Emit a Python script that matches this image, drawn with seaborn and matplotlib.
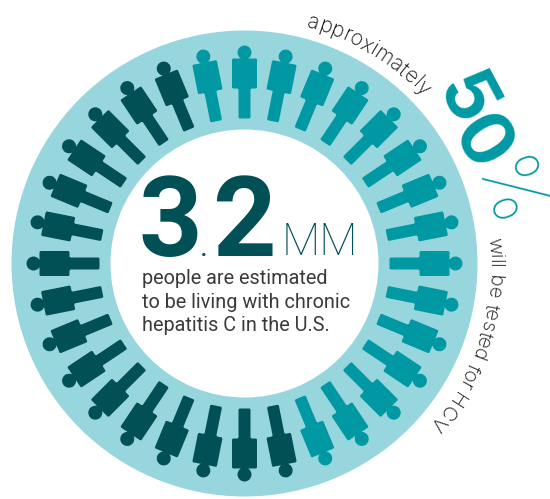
import numpy as np
import pandas as pd
import matplotlib.pyplot as plt
import seaborn as sns
from matplotlib.font_manager import FontProperties
from matplotlib.markers import MarkerStyle
from matplotlib.patches import Wedge
from matplotlib.path import Path
from matplotlib.textpath import TextToPath
from matplotlib.transforms import Affine2D

# 16 of the 32 people are tested, going clockwise from the top
status = ['tested'] * 15 + ['untested'] * 16 + ['tested']
colors = {'tested': '#0099a3', 'untested': '#005056'}
ring_color = '#98d6de'
text_color = '#3a3a3c'
curve_color = '#111111'

body_lines = ['people are estimated', 'to be living with chronic', 'hepatitis C in the U.S.']

DPI = 100
cx, cy = 244.5, 263.5
outer_r, inner_r = 233, 134
person_r = 181.5  # radius of the middle of a person


def rounded(points, rad=1.5):
    # closed polygon with small round corners
    verts, codes = [], []
    n = len(points)
    for i, p in enumerate(points):
        p = np.array(p, dtype=float)
        a = np.array(points[i - 1], dtype=float)
        b = np.array(points[(i + 1) % n], dtype=float)
        p1 = p + (a - p) / np.linalg.norm(a - p) * rad
        p2 = p + (b - p) / np.linalg.norm(b - p) * rad
        verts += [p1, p, p2]
        codes += [Path.MOVETO if i == 0 else Path.LINETO, Path.CURVE3, Path.CURVE3]
    verts.append(verts[0])
    codes.append(Path.CLOSEPOLY)
    return Path(verts, codes)


# person pointing up, in pixels, centred on person_r
body = rounded([(-6, -36.5), (6, -36.5), (6, -6.5), (12.5, -6.5), (12.5, 23.5),
                (-12.5, 23.5), (-12.5, -6.5), (-6, -6.5)])
head = Path.circle((0, 29.5), 7)
person = Path.make_compound_path(body, head)
extent = np.abs(person.vertices).max()
marker_size = (2 * extent * 72 / DPI) ** 2

angles = np.arange(len(status)) * 360 / len(status)
df = pd.DataFrame({
    'x': cx + person_r * np.sin(np.radians(angles)),
    'y': cy - person_r * np.cos(np.radians(angles)),
    'status': status,
    'seat': np.arange(len(status)),
})
markers = {i: MarkerStyle(person, transform=Affine2D().rotate_deg(-a)) for i, a in enumerate(angles)}

sns.set_theme(style='white')
fig, ax = plt.subplots(figsize=(5.5, 4.99), dpi=DPI)
fig.subplots_adjust(0, 0, 1, 1)
ax.set_xlim(0, 550)
ax.set_ylim(499, 0)
ax.axis('off')

ax.add_patch(Wedge((cx, cy), outer_r, 0, 360, width=outer_r - inner_r, fc=ring_color, ec='none', zorder=1))

sns.scatterplot(data=df, x='x', y='y', hue='status', style='seat', palette=colors, markers=markers,
                s=marker_size, linewidth=0, edgecolor='none', legend=False, ax=ax, zorder=2)
ax.set_xlim(0, 550)
ax.set_ylim(499, 0)

# middle text
dark = colors['untested']
ax.text(138, 256, '3', family='Roboto', weight='bold', fontsize=80, color=dark, va='baseline')
ax.text(200, 256, '.', family='Roboto', weight='regular', fontsize=22, color=dark, va='baseline')
ax.text(212, 256, '2', family='Roboto', weight='bold', fontsize=80, color=dark, va='baseline')
ax.text(282, 255, 'MM', family='Roboto', weight='ultralight', fontsize=32, color=dark, va='baseline')
for line, y in zip(body_lines, [284, 308, 331]):
    ax.text(142, y, line, family='Roboto', weight='regular', fontsize=14.3, color=text_color, va='baseline')


def curved_text(s, start, r, size, family, weight, tracking=0.0):
    # one text per letter, turned along the circle, start in degrees clockwise from top
    prop = FontProperties(family=family, weight=weight, size=size)
    ttp = TextToPath()
    for i, ch in enumerate(s):
        w0 = ttp.get_text_width_height_descent(s[:i], prop, False)[0] if i else 0
        w1 = ttp.get_text_width_height_descent(s[:i + 1], prop, False)[0]
        mid = (w0 + w1) / 2 * DPI / 72 + tracking * i
        a = start + np.degrees(mid / r)
        ax.text(cx + r * np.sin(np.radians(a)), cy - r * np.cos(np.radians(a)), ch,
                fontproperties=prop, color=curve_color, rotation=-a, rotation_mode='anchor',
                ha='center', va='baseline')


curved_text('approximately', 14.6, 244, 15.4, 'Inter', 'light')
curved_text('will be tested for HCV', 84, 245, 14.6, 'Inter', 'light')

# big rotated number
teal = colors['tested']
ax.text(463, 100, '5', family='Inter', weight='bold', fontsize=53, color=teal, rotation=-62,
        rotation_mode='anchor', ha='center', va='center')
ax.text(479, 144, '0', family='Inter', weight='bold', fontsize=53, color=teal, rotation=-58,
        rotation_mode='anchor', ha='center', va='center')
ax.text(503, 196, '%', family='Inter', weight='ultralight', fontsize=57, color=teal, rotation=-70,
        rotation_mode='anchor', ha='center', va='center')

fig.savefig('out.png', dpi=DPI)
